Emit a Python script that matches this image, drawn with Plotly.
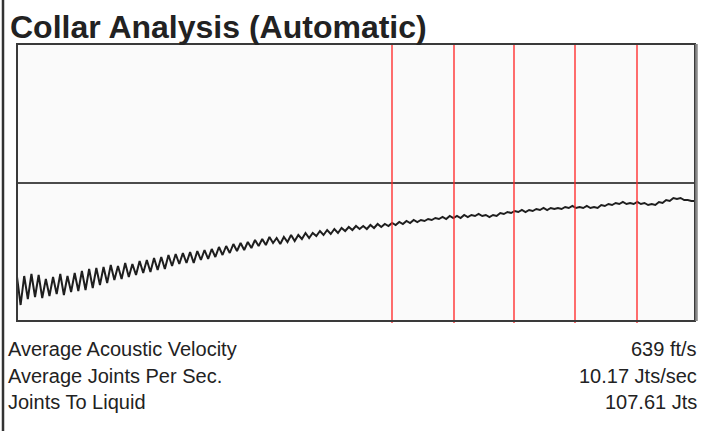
import plotly.graph_objects as go

# ---- data ----
signal = [
    44, 16, 45, 22, 47, 24, 46, 23, 42, 25, 44, 27, 47, 26, 45, 29, 48, 30, 50, 31, 52, 33, 53,
    36, 54, 38, 56, 41, 55, 42, 58, 44, 57, 46, 60, 48, 61, 49, 63, 51, 64, 52, 66, 55, 67, 57, 68, 58,
    69, 58, 70, 61, 71, 62, 72, 64, 74, 66, 75, 68, 77, 70, 78, 71, 79, 73, 81, 75, 82, 76, 84, 78,
    83, 77, 84, 79, 86, 80, 86, 82, 88, 83, 88, 85, 90, 86, 91, 87, 92, 88, 93, 90, 94, 91, 95, 92,
    95, 92, 96, 93, 97, 94, 97, 95, 98, 96, 99, 97, 100, 98, 101, 99, 101, 100, 102, 101, 103, 102, 104, 102, 105, 103,
    105, 103, 106, 104, 106, 105, 107, 105, 106, 104, 106, 105, 108, 107, 109, 108, 110, 109, 111, 109, 111, 110,
    112, 111, 113, 111, 113, 112, 113, 112, 114, 113, 115, 113,
    114, 113, 115, 113, 114, 113, 116, 115, 117, 116, 118, 117, 119, 117, 118, 117, 119, 117, 118, 116, 117, 116,
    119, 118, 121, 120, 123, 122, 123, 121, 121, 120, 120,
]
record_length = 678.0
sample_step = record_length / (len(signal) - 1)
sample_x = [i * sample_step for i in range(len(signal))]

collar_markers = [375, 437, 497, 558, 620]
threshold_level = 138
y_max = 277

title_text = "Collar Analysis (Automatic)"
stat_labels = ["Average Acoustic Velocity", "Average Joints Per Sec.", "Joints To Liquid"]
stat_values = ["639 ft/s", "10.17 Jts/sec", "107.61 Jts"]

# ---- figure ----
W, H = 705, 431
L, R, T, B = 17, 10, 44, 110
pw, ph = W - L - R, H - T - B

def px_x(p):
    return (p - L) / pw

def px_y(p):
    return 1 - (p - T) / ph

fig = go.Figure()
fig.add_trace(go.Scatter(
    x=sample_x, y=signal, mode="lines",
    line=dict(color="#1e1e1e", width=2),
    hoverinfo="skip", showlegend=False,
))

shapes = []
shapes.append(dict(type="line", xref="paper", yref="y", x0=0, x1=1,
                   y0=threshold_level, y1=threshold_level,
                   line=dict(color="#111111", width=1.6), layer="above"))
for m in collar_markers:
    shapes.append(dict(type="line", xref="x", yref="paper", x0=m, x1=m,
                       y0=px_y(323), y1=1,
                       line=dict(color="rgba(255,40,40,0.85)", width=1.6), layer="above"))
shapes.append(dict(type="rect", xref="paper", yref="paper", x0=0, x1=1, y0=0, y1=1,
                   line=dict(color="#3a3a3a", width=2), layer="above"))
shapes.append(dict(type="line", xref="paper", yref="paper", x0=px_x(696.5), x1=px_x(696.5),
                   y0=0, y1=1, line=dict(color="#8a8a8a", width=2.5), layer="above"))
shapes.append(dict(type="line", xref="paper", yref="paper", x0=px_x(3), x1=px_x(3),
                   y0=px_y(H), y1=px_y(0), line=dict(color="#333333", width=2.5)))

font_family = "Liberation Sans, Arial"
annotations = [dict(text="<b>%s</b>" % title_text, xref="paper", yref="paper",
                    x=px_x(8), y=px_y(27), xanchor="left", yanchor="middle",
                    showarrow=False, font=dict(family=font_family, size=32, color="#222222"))]
row_y = [349, 376, 402]
for lab, val, yy in zip(stat_labels, stat_values, row_y):
    annotations.append(dict(text=lab, xref="paper", yref="paper", x=px_x(6), y=px_y(yy),
                            xanchor="left", yanchor="middle", showarrow=False,
                            font=dict(family=font_family, size=20, color="#222222")))
    annotations.append(dict(text=val, xref="paper", yref="paper", x=px_x(699), y=px_y(yy),
                            xanchor="right", yanchor="middle", showarrow=False,
                            font=dict(family=font_family, size=20, color="#222222")))

fig.update_layout(
    width=W, height=H,
    margin=dict(l=L, r=R, t=T, b=B, pad=0),
    paper_bgcolor="white", plot_bgcolor="#fafafa",
    xaxis=dict(range=[0, record_length], visible=False, fixedrange=True),
    yaxis=dict(range=[0, y_max], visible=False, fixedrange=True),
    shapes=shapes, annotations=annotations,
    showlegend=False,
)

fig.write_html("out.html", config={"displayModeBar": False},
               post_script="document.body.style.margin='0';document.body.style.overflow='hidden';")
